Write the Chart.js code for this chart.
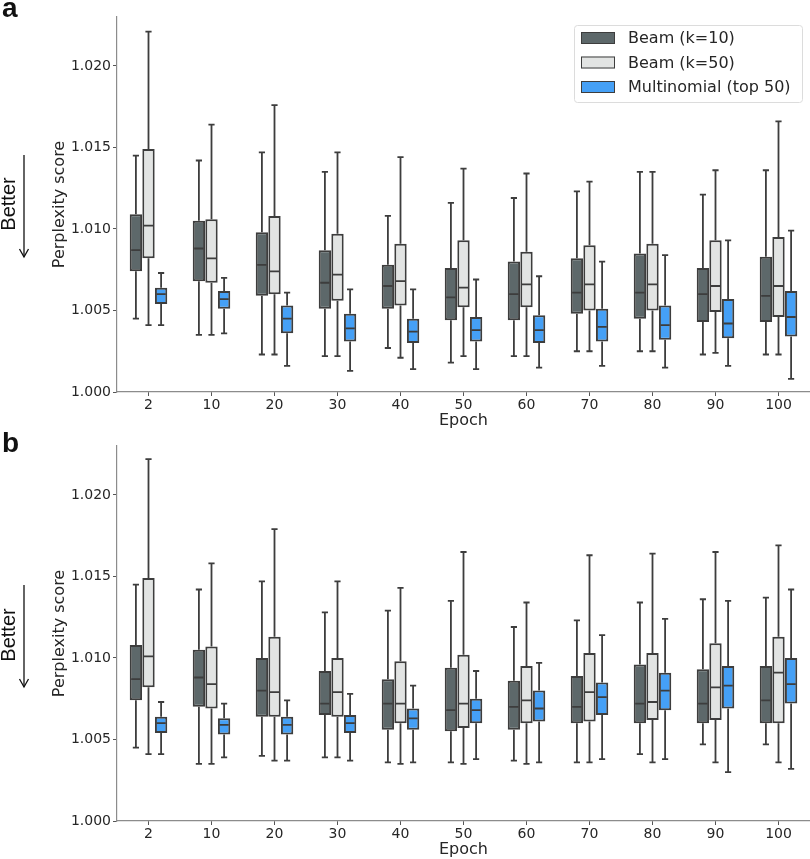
<!DOCTYPE html>
<html>
<head>
<meta charset="utf-8">
<script src="https://cdn.jsdelivr.net/npm/chart.js@4.4.0/dist/chart.umd.min.js"></script>
<style>
  body { margin: 0; background: #fff; }
  #wrap { position: relative; width: 810px; height: 859px; overflow: hidden; }
  canvas { position: absolute; left: 0; }
  #chartA { top: 0; }
  #chartB { top: 429px; }
  svg { position: absolute; left: 0; top: 0; pointer-events: none; }
</style>
</head>
<body>
<div id="wrap">
  <canvas id="chartA" width="810" height="430"></canvas>
  <canvas id="chartB" width="810" height="430"></canvas>
  <svg width="810" height="859">
    <g font-family="Liberation Sans, Arial, sans-serif" fill="#111">
      <text x="2" y="17" font-size="28" font-weight="bold">a</text>
      <text x="2" y="452" font-size="28" font-weight="bold">b</text>
      <text x="15" y="204" font-size="20" text-anchor="middle" transform="rotate(-90 15 204)">Better</text>
      <text x="15" y="635" font-size="20" text-anchor="middle" transform="rotate(-90 15 635)">Better</text>
    </g>
    <g stroke="#111" stroke-width="1.3" fill="none">
      <line x1="24" y1="155" x2="24" y2="257"/>
      <polyline points="19.5,249 24,257 28.5,249"/>
      <line x1="24" y1="585" x2="24" y2="687"/>
      <polyline points="19.5,679 24,687 28.5,679"/>
    </g>
  </svg>
</div>
<script>
// epochs on the x axis
const epochs = ['2', '10', '20', '30', '40', '50', '60', '70', '80', '90', '100'];
const seriesNames = ['Beam (k=10)', 'Beam (k=50)', 'Multinomial (top 50)'];
const yTicks = [1.000, 1.005, 1.010, 1.015, 1.020];

// each entry: [whisker low, q1, median, q3, whisker high]
// panel a
const aBeam10 = [
    [1.0045, 1.0074, 1.0087, 1.0109, 1.0145],
    [1.0035, 1.0068, 1.0088, 1.0105, 1.0142],
    [1.0023, 1.0059, 1.0078, 1.0098, 1.0147],
    [1.0022, 1.0051, 1.0067, 1.0087, 1.0135],
    [1.0027, 1.0051, 1.0065, 1.0078, 1.0108],
    [1.0018, 1.0044, 1.0058, 1.0076, 1.0116],
    [1.0022, 1.0044, 1.0060, 1.0080, 1.0119],
    [1.0025, 1.0048, 1.0061, 1.0082, 1.0123],
    [1.0025, 1.0045, 1.0061, 1.0085, 1.0135],
    [1.0023, 1.0043, 1.0060, 1.0076, 1.0121],
    [1.0023, 1.0043, 1.0059, 1.0083, 1.0136]
];
const aBeam50 = [
    [1.0041, 1.0082, 1.0102, 1.0149, 1.0221],
    [1.0035, 1.0067, 1.0082, 1.0106, 1.0164],
    [1.0023, 1.0060, 1.0074, 1.0108, 1.0176],
    [1.0022, 1.0056, 1.0072, 1.0097, 1.0147],
    [1.0021, 1.0053, 1.0068, 1.0091, 1.0144],
    [1.0022, 1.0052, 1.0064, 1.0093, 1.0137],
    [1.0022, 1.0052, 1.0066, 1.0086, 1.0134],
    [1.0025, 1.0050, 1.0066, 1.0090, 1.0129],
    [1.0025, 1.0050, 1.0066, 1.0091, 1.0135],
    [1.0024, 1.0049, 1.0065, 1.0093, 1.0136],
    [1.0023, 1.0046, 1.0065, 1.0095, 1.0166]
];
const aMulti = [
    [1.0041, 1.0054, 1.0060, 1.0064, 1.0073],
    [1.0036, 1.0051, 1.0057, 1.0062, 1.0070],
    [1.0016, 1.0036, 1.0045, 1.0053, 1.0061],
    [1.0013, 1.0031, 1.0039, 1.0048, 1.0063],
    [1.0014, 1.0030, 1.0037, 1.0045, 1.0063],
    [1.0014, 1.0031, 1.0038, 1.0046, 1.0069],
    [1.0015, 1.0030, 1.0038, 1.0047, 1.0071],
    [1.0016, 1.0031, 1.0040, 1.0051, 1.0080],
    [1.0015, 1.0032, 1.0041, 1.0053, 1.0084],
    [1.0016, 1.0033, 1.0042, 1.0057, 1.0093],
    [1.0008, 1.0034, 1.0046, 1.0062, 1.0099]
];

// panel b
const bBeam10 = [
    [1.0045, 1.0074, 1.0087, 1.0108, 1.0145],
    [1.0035, 1.0070, 1.0088, 1.0105, 1.0142],
    [1.0040, 1.0064, 1.0080, 1.0100, 1.0147],
    [1.0039, 1.0065, 1.0072, 1.0092, 1.0128],
    [1.0036, 1.0056, 1.0072, 1.0087, 1.0129],
    [1.0036, 1.0055, 1.0068, 1.0094, 1.0135],
    [1.0037, 1.0056, 1.0070, 1.0086, 1.0119],
    [1.0036, 1.0060, 1.0070, 1.0089, 1.0123],
    [1.0041, 1.0060, 1.0072, 1.0096, 1.0134],
    [1.0047, 1.0060, 1.0072, 1.0093, 1.0136],
    [1.0047, 1.0060, 1.0074, 1.0095, 1.0137]
];
const bBeam50 = [
    [1.0041, 1.0082, 1.0101, 1.0149, 1.0222],
    [1.0035, 1.0069, 1.0084, 1.0107, 1.0158],
    [1.0037, 1.0064, 1.0079, 1.0113, 1.0179],
    [1.0039, 1.0064, 1.0079, 1.0100, 1.0147],
    [1.0035, 1.0060, 1.0072, 1.0098, 1.0143],
    [1.0035, 1.0057, 1.0072, 1.0102, 1.0165],
    [1.0035, 1.0060, 1.0074, 1.0095, 1.0134],
    [1.0036, 1.0061, 1.0079, 1.0103, 1.0163],
    [1.0036, 1.0062, 1.0073, 1.0103, 1.0164],
    [1.0036, 1.0062, 1.0082, 1.0109, 1.0165],
    [1.0036, 1.0060, 1.0091, 1.0113, 1.0169]
];
const bMulti = [
    [1.0041, 1.0054, 1.0060, 1.0064, 1.0073],
    [1.0039, 1.0053, 1.0059, 1.0063, 1.0072],
    [1.0037, 1.0053, 1.0059, 1.0064, 1.0074],
    [1.0037, 1.0054, 1.0060, 1.0065, 1.0078],
    [1.0036, 1.0056, 1.0063, 1.0069, 1.0083],
    [1.0038, 1.0060, 1.0068, 1.0075, 1.0092],
    [1.0036, 1.0061, 1.0069, 1.0080, 1.0097],
    [1.0038, 1.0065, 1.0076, 1.0085, 1.0114],
    [1.0038, 1.0068, 1.0080, 1.0091, 1.0124],
    [1.0030, 1.0069, 1.0083, 1.0095, 1.0135],
    [1.0032, 1.0072, 1.0084, 1.0100, 1.0142]
];

const fills = ['#5d686a', '#e2e4e3', '#45a0f6'];
const edge = '#3d3d3d';

Chart.defaults.font.family = "'DejaVu Sans', sans-serif";
Chart.defaults.color = '#262626';

// whiskers, caps and medians on top of the floating bars
const whiskerPlugin = {
    id: 'whiskers',
    afterDatasetsDraw(chart) {
        const ctx = chart.ctx;
        const yScale = chart.scales.y;
        ctx.save();
        ctx.strokeStyle = edge;
        ctx.lineWidth = 1.8;
        chart.data.datasets.forEach((ds, di) => {
            chart.getDatasetMeta(di).data.forEach((bar, i) => {
                const s = ds.stats[i];
                const x = bar.x;
                const half = bar.width / 2;
                const yLo = yScale.getPixelForValue(s[0]);
                const yQ1 = yScale.getPixelForValue(s[1]);
                const yMed = yScale.getPixelForValue(s[2]);
                const yQ3 = yScale.getPixelForValue(s[3]);
                const yHi = yScale.getPixelForValue(s[4]);
                ctx.beginPath();
                ctx.moveTo(x, yQ3); ctx.lineTo(x, yHi);
                ctx.moveTo(x, yQ1); ctx.lineTo(x, yLo);
                ctx.moveTo(x - half / 2, yHi); ctx.lineTo(x + half / 2, yHi);
                ctx.moveTo(x - half / 2, yLo); ctx.lineTo(x + half / 2, yLo);
                ctx.moveTo(x - half + 1.5, yMed); ctx.lineTo(x + half - 1.5, yMed);
                ctx.stroke();
            });
        });
        ctx.restore();
    }
};

// legend box inside the plot area, top right
const boxLegend = {
    id: 'boxLegend',
    afterDraw(chart, args, opts) {
        if (!opts.show) return;
        const ctx = chart.ctx;
        const area = chart.chartArea;
        const w = 228, h = 77;
        const x0 = area.right - 8 - w, y0 = area.top + 8;
        ctx.save();
        ctx.fillStyle = 'rgba(255,255,255,0.85)';
        ctx.strokeStyle = '#dcdcdc';
        ctx.lineWidth = 1;
        ctx.beginPath();
        ctx.roundRect(x0 + 0.5, y0 + 0.5, w, h, 3);
        ctx.fill();
        ctx.stroke();
        ctx.font = "16px 'DejaVu Sans'";
        ctx.textBaseline = 'middle';
        chart.data.datasets.forEach((ds, i) => {
            const cy = y0 + 13 + i * 24.5;
            ctx.fillStyle = ds.backgroundColor;
            ctx.fillRect(x0 + 7, cy - 6, 34, 12);
            ctx.strokeStyle = edge;
            ctx.lineWidth = 1;
            ctx.strokeRect(x0 + 7.5, cy - 5.5, 33, 11);
            ctx.fillStyle = '#262626';
            ctx.fillText(ds.label, x0 + 54, cy + 1);
        });
        ctx.restore();
    }
};

function makePanel(canvasId, series, showLegend) {
    const datasets = series.map((stats, i) => ({
        label: seriesNames[i],
        data: stats.map(s => [s[1], s[3]]),
        stats: stats,
        backgroundColor: fills[i],
        borderColor: edge,
        borderWidth: 2,
        borderSkipped: false,
        categoryPercentage: 0.6,
        barPercentage: 0.98
    }));

    return new Chart(document.getElementById(canvasId), {
        type: 'bar',
        data: { labels: epochs, datasets: datasets },
        options: {
            responsive: false,
            animation: false,
            devicePixelRatio: 1,
            layout: { padding: { left: 50, top: 17, right: 0, bottom: 0 } },
            plugins: {
                legend: { display: false },
                tooltip: { enabled: false },
                boxLegend: { show: showLegend }
            },
            scales: {
                x: {
                    grid: { display: true, drawOnChartArea: false, offset: false, tickLength: 4, tickColor: '#555', tickWidth: 1 },
                    border: { display: true, color: '#8c8c8c', width: 1.2 },
                    ticks: { font: { size: 14 }, padding: 1, maxRotation: 0 },
                    title: { display: true, text: 'Epoch', font: { size: 16 }, padding: 0 },
                    afterFit: s => { s.height = 38; }
                },
                y: {
                    min: 1.000,
                    max: 1.023,
                    grid: { display: true, drawOnChartArea: false, tickLength: 4, tickColor: '#555', tickWidth: 1 },
                    border: { display: true, color: '#8c8c8c', width: 1.2 },
                    afterBuildTicks: s => { s.ticks = yTicks.map(v => ({ value: v })); },
                    ticks: { font: { size: 14 }, padding: 2, callback: v => Number(v).toFixed(3) },
                    title: { display: true, text: 'Perplexity score', font: { size: 16 }, padding: 0 },
                    afterFit: s => { s.width = 67; }
                }
            }
        },
        plugins: [whiskerPlugin, boxLegend]
    });
}

makePanel('chartA', [aBeam10, aBeam50, aMulti], true);
makePanel('chartB', [bBeam10, bBeam50, bMulti], false);
</script>
</body>
</html>
